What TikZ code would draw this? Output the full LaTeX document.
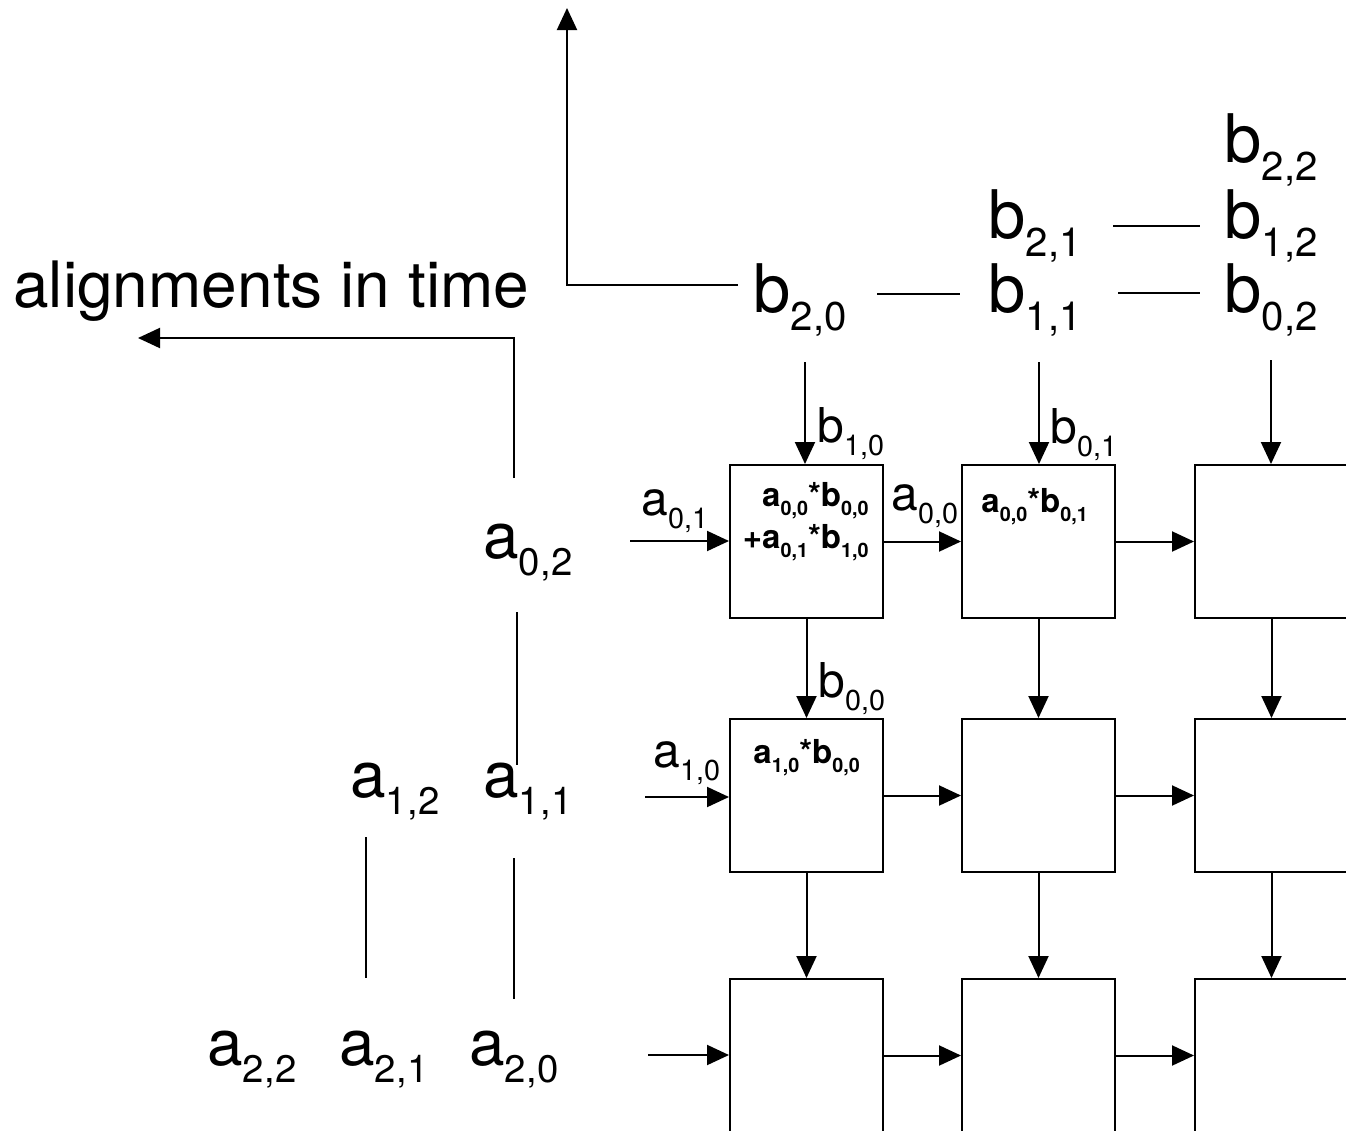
\documentclass[tikz,border=0pt]{standalone}
\usepackage{fontspec}
\setmainfont{TeX Gyre Heros}
\usepackage{graphicx}
\usetikzlibrary{arrows.meta,positioning,calc}
\newcommand{\elem}[2]{#1\raisebox{-0.28em}{\scalebox{0.6}{#2}}}

\begin{document}
\begin{tikzpicture}[x=0.5pt,y=-0.5pt,
    pe/.style={draw,line width=1pt,minimum width=76.5pt,minimum height=76.5pt,inner sep=0pt},
    flow/.style={line width=1pt,-{Triangle[length=11pt,width=10pt]}},
    tick/.style={line width=1pt},
    big/.style={inner sep=0pt,anchor=base west,font=\fontsize{32}{38}\selectfont},
    bigb/.style={big,font=\fontsize{33.5}{40}\selectfont},
    small/.style={inner sep=0pt,anchor=base west,font=\fontsize{24}{29}\selectfont},
    cell/.style={inner sep=0pt,font=\bfseries\fontsize{16.5}{21}\selectfont}]
\path[use as bounding box,clip] (0,0) rectangle (1346,1131);

% processing elements
\node[pe] (p11) at (806.5,541.5) {};
\node[pe] (p12) at (1038.5,541.5) {};
\node[pe] (p13) at (1271.5,541.5) {};
\node[pe] (p21) at (806.5,795.5) {};
\node[pe] (p22) at (1038.5,795.5) {};
\node[pe] (p23) at (1271.5,795.5) {};
\node[pe] (p31) at (806.5,1055.5) {};
\node[pe] (p32) at (1038.5,1055.5) {};
\node[pe] (p33) at (1271.5,1055.5) {};

\node[cell,align=right,anchor=north east] (s11) at (869,482)
    {\elem{a}{0,0}*\elem{b}{0,0}\\+\elem{a}{0,1}*\elem{b}{1,0}};
\node[cell,anchor=base west] (s12) at (981,512) {\elem{a}{0,0}*\elem{b}{0,1}};
\node[cell,anchor=base west] (s21) at (753,763) {\elem{a}{1,0}*\elem{b}{0,0}};

% b matrix, skewed
\node[bigb] (b22) at (1224,162) {\elem{b}{2,2}};
\node[bigb] (b21) at (988,238) {\elem{b}{2,1}};
\node[bigb] (b12) at (1224,238) {\elem{b}{1,2}};
\node[bigb] (b20) at (753,312) {\elem{b}{2,0}};
\node[bigb] (b11) at (988,312) {\elem{b}{1,1}};
\node[bigb] (b02) at (1224,312) {\elem{b}{0,2}};
\draw[tick] ($(b20.base west)+(124,-18)$) -- ($(b11.base west)+(-28,-18)$);
\draw[tick] ($(b11.base west)+(130,-19)$) -- ($(b02.base west)+(-24,-19)$);
\draw[tick] ($(b21.base west)+(125,-12)$) -- ($(b12.base west)+(-24,-12)$);

% a matrix, skewed
\node[big] (a02) at (483,558) {\elem{a}{0,2}};
\node[big] (a12) at (350,797) {\elem{a}{1,2}};
\node[big] (a11) at (483,797) {\elem{a}{1,1}};
\node[big] (a22) at (207,1065) {\elem{a}{2,2}};
\node[big] (a21) at (339,1065) {\elem{a}{2,1}};
\node[big] (a20) at (469,1065) {\elem{a}{2,0}};
\draw[tick] ($(a02.base west)+(34,54)$) -- ($(a11.base west)+(34,-32)$);
\draw[tick] ($(a12.base west)+(16,40)$) -- ($(a21.base west)+(27,-87)$);
\draw[tick] ($(a11.base west)+(31,61)$) -- ($(a20.base west)+(45,-66)$);

% time axes
\node[big,anchor=base west] (lbltime) at (13,307) {alignments in time};
\coordinate (topend) at (567,8);
\coordinate (leftend) at (138,338);
\draw[flow] ($(b20.base west)+(-15,-27)$) -| (topend);
\draw[flow] ($(a02.base west)+(31,-80)$) |- (leftend);

% inputs
\coordinate (bin1) at (805,362);
\coordinate (bin2) at (1039,362);
\coordinate (bin3) at (1271,360);
\coordinate (ain1) at (630,541);
\coordinate (ain2) at (645,797);
\coordinate (ain3) at (648,1055);
\draw[flow] (bin1) -- (bin1 |- p11.north);
\draw[flow] (bin2) -- (bin2 |- p12.north);
\draw[flow] (bin3) -- (bin3 |- p13.north);
\draw[flow] (ain1) -- (ain1 -| p11.west);
\draw[flow] (ain2) -- (ain2 -| p21.west);
\draw[flow] (ain3) -- (ain3 -| p31.west);

% links between cells
\draw[flow] (p11) -- (p12);
\draw[flow] (p12) -- (p13);
\draw[flow] (p21) -- (p22);
\draw[flow] (p22) -- (p23);
\draw[flow] (p31) -- (p32);
\draw[flow] (p32) -- (p33);
\draw[flow] (p11) -- (p21);
\draw[flow] (p21) -- (p31);
\draw[flow] (p12) -- (p22);
\draw[flow] (p22) -- (p32);
\draw[flow] (p13) -- (p23);
\draw[flow] (p23) -- (p33);

\node[small] (a01) at (641,515) {\elem{a}{0,1}};
\node[small] (a00) at (891,510) {\elem{a}{0,0}};
\node[small] (a10) at (653,767) {\elem{a}{1,0}};
\node[small] (b10) at (817,442) {\elem{b}{1,0}};
\node[small] (b01) at (1050,443) {\elem{b}{0,1}};
\node[small] (b00) at (818,697) {\elem{b}{0,0}};
\end{tikzpicture}
\end{document}
